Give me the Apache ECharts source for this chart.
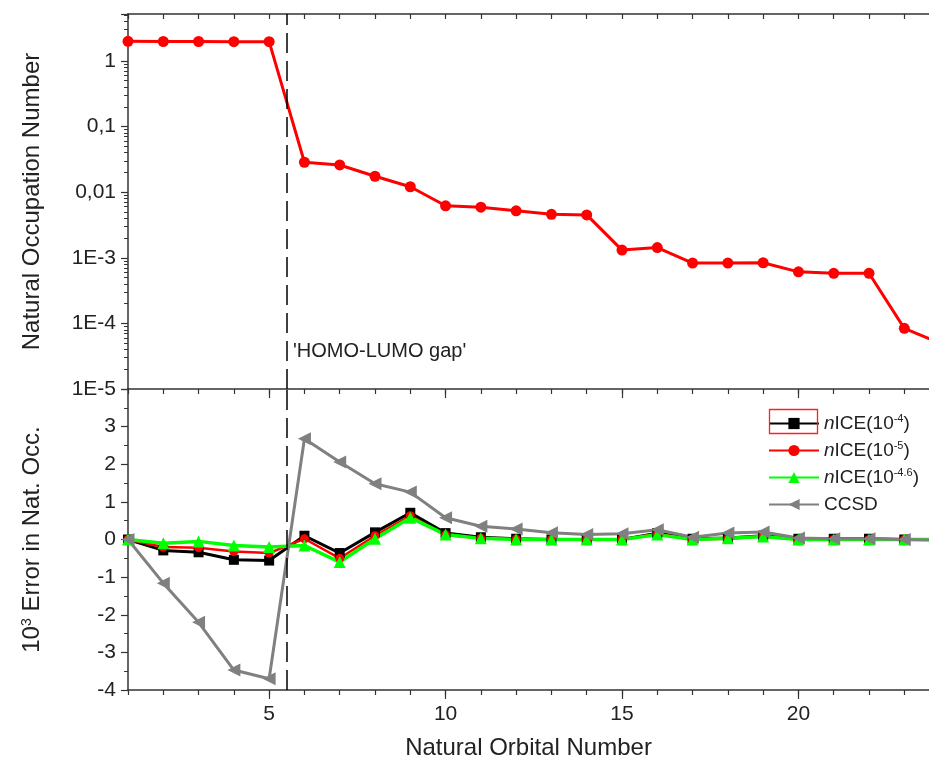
<!DOCTYPE html>
<html>
<head>
<meta charset="utf-8">
<script src="https://cdn.jsdelivr.net/npm/echarts@6/dist/echarts.min.js"></script>
<style>html,body{margin:0;padding:0;background:#fff;}#c{width:929px;height:769px;}</style>
</head>
<body>
<div id="c"></div>
<script>
// ---- data ----
const orbitals = [1,2,3,4,5,6,7,8,9,10,11,12,13,14,15,16,17,18,19,20,21,22,23,24];
const occupation = [1.99,1.98,1.98,1.97,1.97,0.0286,0.026,0.0175,0.0121,0.0062,0.0059,0.0052,0.0046,0.0045,0.00131,0.00143,0.00083,0.00083,0.00084,0.00061,0.00058,0.00058,0.000084,0.00005];
const errNice4 = [0,-0.29,-0.34,-0.54,-0.56,0.1,-0.36,0.19,0.71,0.17,0.06,0.02,0.0,0.0,0.0,0.17,0.02,0.04,0.1,0.02,0.02,0.02,0.0,0.0];
const errNice5 = [0,-0.2,-0.22,-0.32,-0.36,0.02,-0.5,0.1,0.63,0.12,0.03,0.01,0.0,0.0,0.0,0.15,0.0,0.02,0.08,0.0,0.0,0.0,0.0,0.0];
const errNice46 = [0,-0.1,-0.05,-0.16,-0.2,-0.16,-0.6,0.02,0.58,0.13,0.03,0.0,0.0,0.0,0.0,0.13,0.0,0.03,0.08,0.0,0.0,0.0,0.0,0.0];
const errCcsd = [0,-1.16,-2.2,-3.47,-3.7,2.68,2.06,1.48,1.26,0.58,0.35,0.28,0.18,0.13,0.15,0.26,0.06,0.17,0.2,0.04,0.02,0.02,0.0,-0.02];
const seriesNames = ['nICE(10^-4)','nICE(10^-5)','nICE(10^-4.6)','CCSD'];
const legendLabels = ['{it|n}ICE(10{sup|-4})','{it|n}ICE(10{sup|-5})','{it|n}ICE(10{sup|-4.6})','CCSD'];
const xMajorTicks = [5,10,15,20];
const logTickLabels = {'-5':'1E-5','-4':'1E-4','-3':'1E-3','-2':'0,01','-1':'0,1','0':'1'};
const homoLumoX = 5.5;
const homoLumoText = "'HOMO-LUMO gap'";

// ---- layout / style ----
const X_MIN = 1, X_MAX = 23.7;
const Y_LOG_MIN = 1e-5, Y_LOG_MAX = 5.2;
const AX = '#333';
const TXT = '#222';
const FONT = 'Liberation Sans, Arial, sans-serif';

const pairs = arr => orbitals.map((x, i) => [x, arr[i]]);
const minorLog = [];
for (let e = -5; e <= 0; e++) for (let k = 2; k <= 9; k++) {
  const v = Math.log10(k) + e;
  if (v <= Math.log10(Y_LOG_MAX)) minorLog.push(v);
}
const unitTicks = [];
for (let x = 1; x <= 23; x++) unitTicks.push(x);

const baseX = (grid, extra) => Object.assign({
  gridIndex: grid, type: 'value', min: X_MIN, max: X_MAX,
  axisLine: {show: true, onZero: false, lineStyle: {color: AX, width: 1.5}},
  axisTick: {show: true, customValues: unitTicks, length: 5, lineStyle: {color: AX, width: 1.2}},
  axisLabel: {show: false},
  splitLine: {show: false}
}, extra);

const dashLine = {
  silent: true, symbol: 'none', animation: false,
  label: {show: false},
  lineStyle: {color: '#000', type: [20, 8], width: 1.5},
  data: [{xAxis: homoLumoX}]
};

const legendMap = {};
seriesNames.forEach((n, i) => legendMap[n] = legendLabels[i]);

const option = {
  animation: false,
  textStyle: {fontFamily: FONT},
  grid: [
    {left: 128, right: 0, top: 14, height: 375},
    {left: 128, right: 0, top: 389, height: 301}
  ],
  xAxis: [
    baseX(0, {position: 'bottom'}),
    baseX(0, {position: 'bottom', axisLine: {show: false, onZero: false}, axisTick: {show: true, customValues: xMajorTicks, length: 9, lineStyle: {color: AX, width: 1.2}}}),
    baseX(0, {position: 'top', axisTick: {show: true, inside: true, customValues: unitTicks, length: 5, lineStyle: {color: AX, width: 1.2}}}),
    baseX(1, {position: 'bottom'}),
    baseX(1, {position: 'bottom', axisLine: {show: false, onZero: false},
      axisTick: {show: true, customValues: xMajorTicks, length: 9, lineStyle: {color: AX, width: 1.2}},
      axisLabel: {show: true, customValues: xMajorTicks, fontSize: 21, color: TXT, margin: 14, fontFamily: FONT},
      name: 'Natural Orbital Number', nameLocation: 'middle', nameGap: 46,
      nameTextStyle: {fontSize: 24, color: TXT, fontFamily: FONT}})
  ],
  yAxis: [
    {gridIndex: 0, type: 'log', logBase: 10, min: Y_LOG_MIN, max: Y_LOG_MAX, position: 'left',
      axisLine: {show: true, onZero: false, lineStyle: {color: AX, width: 1.5}},
      axisTick: {show: true, length: 7, lineStyle: {color: AX, width: 1.2}},
      axisLabel: {fontSize: 21, color: TXT, margin: 12, fontFamily: FONT, showMaxLabel: true,
        formatter: v => { const e = Math.round(Math.log10(v)); return Math.abs(Math.log10(v) - e) < 1e-6 && logTickLabels[e] !== undefined ? logTickLabels[e] : ''; }},
      splitLine: {show: false},
      name: 'Natural Occupation Number', nameLocation: 'middle', nameGap: 84,
      nameTextStyle: {fontSize: 24, color: TXT, fontFamily: FONT}},
    {gridIndex: 0, type: 'value', min: -5, max: Math.log10(Y_LOG_MAX), position: 'left',
      axisLine: {show: false, onZero: false}, axisLabel: {show: false}, splitLine: {show: false},
      axisTick: {show: true, customValues: minorLog, length: 4, lineStyle: {color: AX, width: 1}}},
    {gridIndex: 1, type: 'value', min: -4, max: 4, interval: 1, position: 'left',
      axisLine: {show: true, onZero: false, lineStyle: {color: AX, width: 1.5}},
      axisTick: {show: true, length: 7, lineStyle: {color: AX, width: 1.2}},
      minorTick: {show: true, splitNumber: 2, length: 4, lineStyle: {color: AX, width: 1}},
      axisLabel: {fontSize: 21, color: TXT, margin: 12, fontFamily: FONT, formatter: v => v === 4 ? '' : String(v)},
      splitLine: {show: false},
      name: '10{sup|3} Error in Nat. Occ.', nameLocation: 'middle', nameGap: 84,
      nameTextStyle: {fontSize: 24, color: TXT, fontFamily: FONT,
        rich: {sup: {fontSize: 14, verticalAlign: 'top', color: TXT, fontFamily: FONT}}}}
  ],
  legend: {
    orient: 'vertical', left: 763, top: 408, itemWidth: 50, itemHeight: 14, itemGap: 6,
    data: seriesNames,
    formatter: n => legendMap[n],
    textStyle: {fontSize: 19, color: TXT, fontFamily: FONT, lineHeight: 21,
      rich: {
        it: {fontStyle: 'italic', fontSize: 19, color: TXT, fontFamily: FONT},
        sup: {fontSize: 11, verticalAlign: 'top', color: TXT, fontFamily: FONT}
      }}
  },
  graphic: [
    {type: 'text', left: 293, top: 341, silent: true,
      style: {text: homoLumoText, fontSize: 20, fill: TXT, fontFamily: FONT}},
    {type: 'rect', x: 769.5, y: 409.5, silent: true, z: 1000,
      shape: {x: 0, y: 0, width: 48, height: 24}, style: {fill: null, stroke: '#ff2020', lineWidth: 1.3}}
  ],
  series: [
    {name: 'occ', type: 'line', xAxisIndex: 0, yAxisIndex: 0, data: pairs(occupation),
      symbol: 'circle', symbolSize: 11, lineStyle: {color: '#ff0000', width: 3},
      itemStyle: {color: '#ff0000'}, markLine: dashLine},
    {name: seriesNames[0], type: 'line', xAxisIndex: 3, yAxisIndex: 2, data: pairs(errNice4),
      symbol: 'rect', symbolSize: 10, lineStyle: {color: '#000', width: 3}, itemStyle: {color: '#000'}},
    {name: seriesNames[1], type: 'line', xAxisIndex: 3, yAxisIndex: 2, data: pairs(errNice5),
      symbol: 'circle', symbolSize: 9, lineStyle: {color: '#ff0000', width: 2.5}, itemStyle: {color: '#ff0000'}},
    {name: seriesNames[2], type: 'line', xAxisIndex: 3, yAxisIndex: 2, data: pairs(errNice46),
      symbol: 'triangle', symbolSize: 12, lineStyle: {color: '#00ff00', width: 3.5}, itemStyle: {color: '#00ff00'}},
    {name: seriesNames[3], type: 'line', xAxisIndex: 3, yAxisIndex: 2, data: pairs(errCcsd),
      symbol: 'triangle', symbolRotate: 90, symbolSize: 13, lineStyle: {color: '#808080', width: 3}, itemStyle: {color: '#808080'},
      markLine: dashLine}
  ]
};

const chart = echarts.init(document.getElementById('c'), null, {renderer: 'canvas'});
chart.setOption(option);
</script>
</body>
</html>
